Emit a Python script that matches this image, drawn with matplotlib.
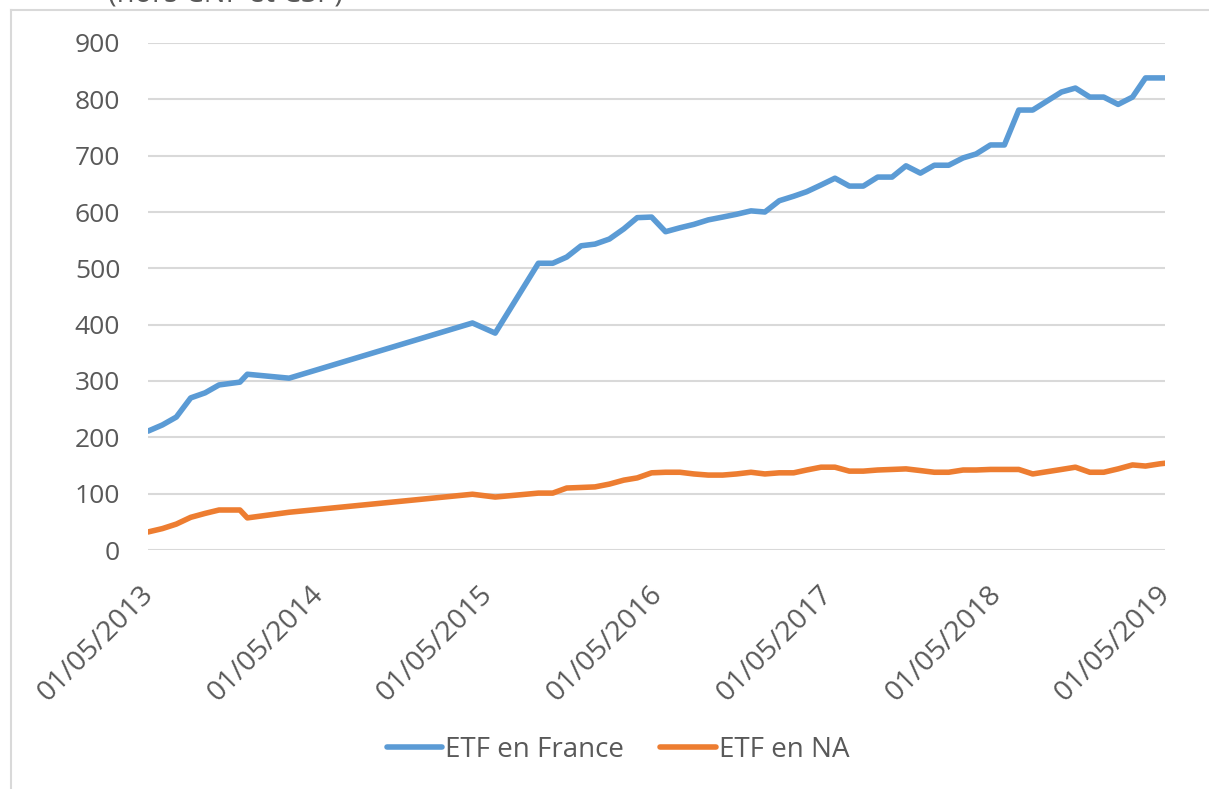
import matplotlib.pyplot as plt
import matplotlib.dates as mdates
from matplotlib.lines import Line2D
from matplotlib.transforms import ScaledTranslation
import pandas as pd

# dates
dates = ["2013-05-01", "2013-06-01", "2013-07-01", "2013-08-01", "2013-09-01",
         "2013-10-01", "2013-11-15", "2013-12-01", "2014-03-01", "2015-03-31",
         "2015-05-19",
         "2015-08-20", "2015-09-20", "2015-10-20", "2015-11-20", "2015-12-20",
         "2016-01-20", "2016-02-20", "2016-03-20", "2016-04-20", "2016-05-20",
         "2016-06-20", "2016-07-20", "2016-08-20", "2016-09-20", "2016-10-20",
         "2016-11-20", "2016-12-20", "2017-01-20", "2017-02-20", "2017-03-20",
         "2017-04-20", "2017-05-20", "2017-06-20", "2017-07-20", "2017-08-20",
         "2017-09-20", "2017-10-20", "2017-11-20", "2017-12-20", "2018-01-20",
         "2018-02-20", "2018-03-20", "2018-04-20", "2018-05-20", "2018-06-20",
         "2018-07-20", "2018-08-20", "2018-09-20", "2018-10-20", "2018-11-20",
         "2018-12-20", "2019-01-20", "2019-02-20", "2019-03-20", "2019-04-20",
         "2019-05-01"]

etf_france = [211, 222, 236, 270, 279, 293, 298, 312, 305, 403, 385,
              509, 509, 520, 540, 543, 552, 570, 590, 591, 565,
              572, 578, 586, 591, 596, 602, 600, 620, 628, 636,
              648, 660, 646, 646, 662, 662, 682, 669, 683, 683,
              696, 703, 719, 719, 781, 781, 797, 813, 820, 804,
              804, 791, 804, 838, 838, 838]

etf_na = [32, 38, 46, 58, 65, 71, 71, 57, 67, 99, 94,
          101, 101, 110, 111, 112, 117, 124, 128, 137, 138,
          138, 135, 133, 133, 135, 138, 135, 137, 137, 142,
          147, 147, 140, 140, 142, 143, 144, 141, 138, 138,
          142, 142, 143, 143, 143, 135, 139, 143, 147, 138,
          138, 144, 151, 149, 153, 154]

tick_dates = ["2013-05-01", "2014-05-01", "2015-05-01", "2016-05-01",
              "2017-05-01", "2018-05-01", "2019-05-01"]

x = pd.to_datetime(dates)
ticks = pd.to_datetime(tick_dates)

plt.rcParams['font.family'] = ['Open Sans', 'DejaVu Sans']
txt = '#595959'
grid = '#D9D9D9'

fig = plt.figure(figsize=(12.09, 7.89), dpi=100)
W, H = 1209, 789
ax = fig.add_axes([148 / W, 1 - 550 / H, (1165 - 148) / W, (550 - 43) / H])

ax.plot(x, etf_france, color='#5B9BD5', lw=4.0, solid_capstyle='round',
        solid_joinstyle='round', label='ETF en France', zorder=3)
ax.plot(x, etf_na, color='#ED7D31', lw=4.0, solid_capstyle='round',
        solid_joinstyle='round', label='ETF en NA', zorder=3)

ax.set_ylim(0, 900)
ax.set_yticks(range(0, 901, 100))
ax.set_xlim(ticks[0], ticks[-1])
ax.set_xticks(ticks)
ax.xaxis.set_major_formatter(mdates.DateFormatter('%d/%m/%Y'))

ax.grid(axis='y', color=grid, lw=1.5)
ax.set_axisbelow(True)
for s in ax.spines.values():
    s.set_visible(False)
ax.tick_params(length=0, colors=txt)
ax.tick_params(axis='y', pad=20, labelsize=19)
ax.tick_params(axis='x', pad=22, labelsize=20.5)

for lab in ax.get_xticklabels():
    lab.set_rotation(45)
    lab.set_ha('right')
    lab.set_va('top')
    lab.set_rotation_mode('anchor')
    lab.set_transform(lab.get_transform() + ScaledTranslation(-0.08, 0, fig.dpi_scale_trans))

fig.legend(loc='center', bbox_to_anchor=(618 / W, 1 - 750 / H), ncol=2,
           frameon=False, fontsize=20, labelcolor=txt, handlelength=2.0,
           handletextpad=0.1, columnspacing=1.3)

# chart area border (cut off by the image)
fig.add_artist(Line2D([11 / W, 11 / W], [0, 1 - 10 / H], color=grid, lw=1.5))
fig.add_artist(Line2D([11 / W, 1], [1 - 10 / H, 1 - 10 / H], color=grid, lw=1.5))

fig.text(225 / W, 1 - 2 / H, "(hors CNF et CSP)", ha='center', va='baseline',
         fontsize=21, color=txt)

fig.savefig('out.png', dpi=100)
